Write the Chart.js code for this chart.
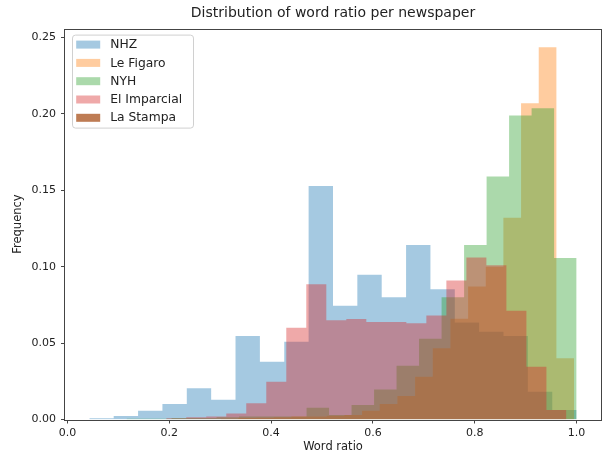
<!DOCTYPE html>
<html>
<head>
<meta charset="utf-8">
<script src="https://cdn.jsdelivr.net/npm/chart.js@4.4.0/dist/chart.umd.min.js"></script>
<style>
  html, body { margin: 0; padding: 0; background: #fff; }
</style>
</head>
<body>
<canvas id="histChart" width="604" height="454"></canvas>
<script>
// newspapers, in plotting order (last one is drawn on top)
const newspapers = ['NHZ', 'Le Figaro', 'NYH', 'El Imparcial', 'La Stampa'];

// histogram range [min, max] of each newspaper and its 20 bin frequencies
const nhzRange = [0.043, 1.0];
const nhzFreq = [0.0008, 0.0023, 0.0058, 0.0101, 0.0204, 0.0130, 0.0546, 0.0378, 0.0509, 0.1528,
                 0.0745, 0.0948, 0.0800, 0.1142, 0.0852, 0.0634, 0.0575, 0.0546, 0.0182, 0.0062];

const figaroRange = [0.301, 0.995];
const figaroFreq = [0.0005, 0.0010, 0.0012, 0.0015, 0.0020, 0.0020, 0.0025, 0.0030, 0.0058, 0.0101,
                    0.0154, 0.0280, 0.0466, 0.0660, 0.0870, 0.1000, 0.1320, 0.2069, 0.2436, 0.0400];

const nyhRange = [0.116, 1.0];
const nyhFreq = [0.0005, 0.0005, 0.0010, 0.0010, 0.0015, 0.0020, 0.0020, 0.0020, 0.0077, 0.0030,
                 0.0095, 0.0197, 0.0352, 0.0529, 0.0800, 0.1142, 0.1590, 0.1990, 0.2037, 0.1057];

const imparcialRange = [0.194, 0.980];
const imparcialFreq = [0.0008, 0.0015, 0.0020, 0.0040, 0.0106, 0.0247, 0.0600, 0.0885, 0.0649, 0.0657,
                       0.0638, 0.0638, 0.0630, 0.0680, 0.0909, 0.1060, 0.1010, 0.0712, 0.0346, 0.0062];

// La Stampa has no bars showing, only its legend entry
const stampaRange = [0, 1];
const stampaFreq = [];

// axis ticks
const xTicks = [0.0, 0.2, 0.4, 0.6, 0.8, 1.0];
const yTicks = [0.00, 0.05, 0.10, 0.15, 0.20, 0.25];

const colors = [
  'rgba(31, 119, 180, 0.4)',
  'rgba(255, 127, 14, 0.4)',
  'rgba(44, 160, 44, 0.4)',
  'rgba(214, 39, 40, 0.4)',
  'rgb(190, 124, 84)',
];

// turn a histogram (range + frequencies) into step points at the bin edges
function histPoints(range, freq) {
  const width = (range[1] - range[0]) / freq.length;
  const points = freq.map((f, i) => ({ x: range[0] + i * width, y: f }));
  if (freq.length) points.push({ x: range[1], y: 0 });
  return points;
}

const histograms = [
  [nhzRange, nhzFreq],
  [figaroRange, figaroFreq],
  [nyhRange, nyhFreq],
  [imparcialRange, imparcialFreq],
  [stampaRange, stampaFreq],
];

const datasets = histograms.map(([range, freq], i) => ({
  label: newspapers[i],
  data: histPoints(range, freq),
  stepped: 'before', // keep each height until the next bin edge
  fill: 'origin',
  backgroundColor: colors[i],
  borderColor: 'rgba(0, 0, 0, 0)',
  borderWidth: 0,
  pointRadius: 0,
  pointHoverRadius: 0,
  order: newspapers.length - i, // higher order is drawn first (underneath)
}));

const font = 'DejaVu Sans';
const textColor = '#222';
const spineColor = '#444';

// title, frame and legend drawn the matplotlib way
const matplotlibLook = {
  id: 'matplotlibLook',
  afterDraw(chart) {
    const { ctx, chartArea: ca } = chart;
    ctx.save();

    // frame round the axes
    ctx.strokeStyle = spineColor;
    ctx.lineWidth = 1;
    ctx.strokeRect(Math.round(ca.left) - 0.5, Math.round(ca.top) + 0.5,
                   Math.round(ca.right - ca.left) + 1, Math.round(ca.bottom - ca.top));

    // title
    ctx.fillStyle = textColor;
    ctx.font = `14px "${font}"`;
    ctx.textAlign = 'center';
    ctx.textBaseline = 'middle';
    ctx.fillText('Distribution of word ratio per newspaper', (ca.left + ca.right) / 2, 13);

    // legend box, upper left
    const bx = ca.left + 7.5, by = ca.top + 6.5, bw = 121, bh = 93;
    ctx.beginPath();
    ctx.roundRect(bx, by, bw, bh, 3);
    ctx.fillStyle = 'rgba(255, 255, 255, 0.8)';
    ctx.fill();
    ctx.strokeStyle = '#d0d0d0';
    ctx.stroke();

    ctx.font = `12.3px "${font}"`;
    ctx.textAlign = 'left';
    chart.data.datasets.forEach((ds, i) => {
      const cy = by + 9.5 + i * 18.3;
      ctx.fillStyle = ds.backgroundColor;
      ctx.fillRect(bx + 3.7, cy - 4, 24, 8);
      ctx.fillStyle = textColor;
      ctx.fillText(ds.label, bx + 37.7, cy + 0.5);
    });
    ctx.restore();
  }
};

new Chart(document.getElementById('histChart'), {
  type: 'line',
  data: { datasets },
  options: {
    responsive: false,
    animation: false,
    devicePixelRatio: 1,
    layout: { padding: { top: 28.6, right: 3, left: 0, bottom: 0 } },
    plugins: {
      legend: { display: false },
      title: { display: false },
      tooltip: { enabled: false },
    },
    scales: {
      x: {
        type: 'linear',
        min: -0.0048,
        max: 1.0479,
        afterBuildTicks: (scale) => { scale.ticks = xTicks.map(v => ({ value: v })); },
        afterFit: (scale) => { scale.height = 34.5; },
        ticks: {
          callback: (v) => v.toFixed(1),
          font: { family: font, size: 11 },
          color: textColor,
          padding: 3,
          maxRotation: 0,
        },
        grid: { display: true, drawOnChartArea: false, drawTicks: true, tickLength: 4, color: spineColor },
        border: { display: false },
        title: {
          display: true,
          text: 'Word ratio',
          font: { family: font, size: 11.5 },
          color: textColor,
          padding: { top: 0, bottom: 0 },
        },
      },
      y: {
        type: 'linear',
        min: 0,
        max: 0.2558,
        afterBuildTicks: (scale) => { scale.ticks = yTicks.map(v => ({ value: v })); },
        afterFit: (scale) => { scale.width = 65; },
        ticks: {
          callback: (v) => v.toFixed(2),
          font: { family: font, size: 11 },
          color: textColor,
          padding: 5,
        },
        grid: { display: true, drawOnChartArea: false, drawTicks: true, tickLength: 4, color: spineColor },
        border: { display: false },
        title: {
          display: true,
          text: 'Frequency',
          font: { family: font, size: 11.5 },
          color: textColor,
          padding: { top: 11, bottom: 0 },
        },
      },
    },
  },
  plugins: [matplotlibLook],
});
</script>
</body>
</html>
